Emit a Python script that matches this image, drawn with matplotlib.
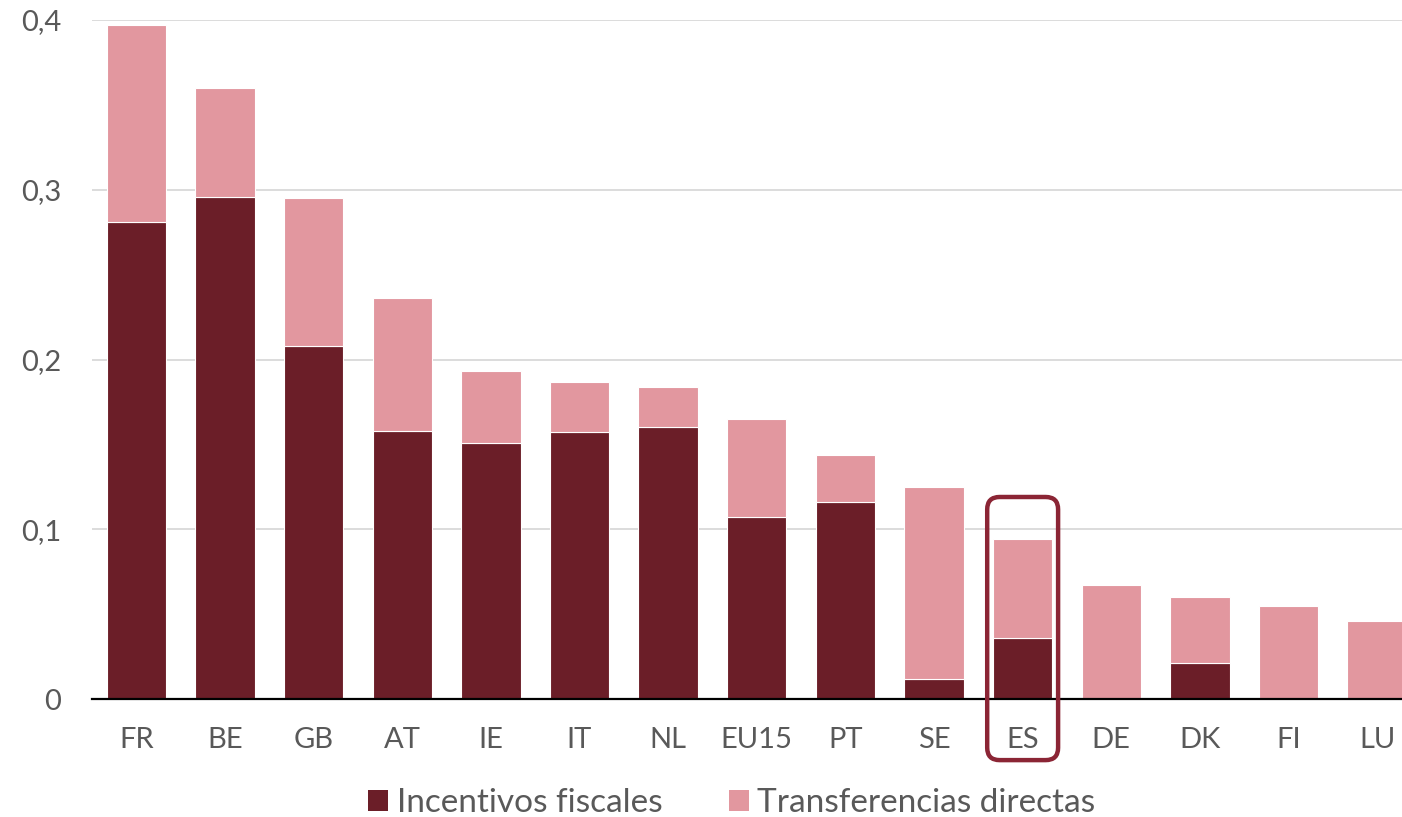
import matplotlib
matplotlib.use("Agg")
import matplotlib.pyplot as plt
from matplotlib.patches import FancyBboxPatch, Patch
import numpy as np

plt.rcParams['font.family'] = ['Lato', 'DejaVu Sans']

countries = ["FR", "BE", "GB", "AT", "IE", "IT", "NL", "EU15", "PT", "SE", "ES", "DE", "DK", "FI", "LU"]
incentivos = [0.281, 0.296, 0.208, 0.158, 0.151, 0.157, 0.160, 0.107, 0.116, 0.012, 0.036, 0.0, 0.021, 0.0, 0.0]
totales = [0.397, 0.360, 0.295, 0.236, 0.193, 0.187, 0.184, 0.165, 0.144, 0.125, 0.094, 0.067, 0.060, 0.055, 0.046]
transferencias = [t - i for t, i in zip(totales, incentivos)]
yticks = [0, 0.1, 0.2, 0.3, 0.4]
ytick_labels = ["0", "0,1", "0,2", "0,3", "0,4"]
highlight = "ES"

dark = "#6B1E28"
light = "#E2979F"
border = "#8B2535"
gray = "#595959"

fig = plt.figure(figsize=(14.02, 8.17), dpi=100)
ax = fig.add_axes([92/1402, 118/817, 1 - 92/1402, (699-20)/817])

x = np.arange(len(countries))
ax.bar(x, incentivos, width=0.67, color=dark, edgecolor="white", linewidth=0.8, zorder=3)
ax.bar(x, transferencias, bottom=incentivos, width=0.67, color=light, edgecolor="white", linewidth=0.8, zorder=3)

ax.set_xlim(-0.5, 14.28)
ax.set_ylim(0, 0.4)
ax.set_yticks(yticks)
ax.set_yticklabels(ytick_labels)
ax.set_xticks(x)
ax.set_xticklabels(countries)
ax.grid(axis="y", color="#D9D9D9", linewidth=1.3, zorder=0)
ax.set_axisbelow(True)
for s in ["top", "right", "left"]:
    ax.spines[s].set_visible(False)
ax.spines["bottom"].set_color("black")
ax.spines["bottom"].set_linewidth(1.6)
ax.spines["bottom"].set_zorder(4)
ax.tick_params(axis="both", length=0, labelsize=21, labelcolor=gray)
ax.tick_params(axis="x", pad=20)
ax.tick_params(axis="y", pad=22)

# highlight box around ES
hi = countries.index(highlight)
px_x = 88.6
px_y = 1697.5
rect = FancyBboxPatch((hi - 0.40, -0.036), 0.80, 0.155,
                      boxstyle="round,pad=0,rounding_size=0.14",
                      mutation_aspect=px_x / px_y,
                      transform=ax.transData, clip_on=False,
                      facecolor="none", edgecolor=border, linewidth=3.2, zorder=6)
ax.add_patch(rect)

handles = [Patch(facecolor=dark, label="Incentivos fiscales"),
           Patch(facecolor=light, label="Transferencias directas")]
fig.legend(handles=handles, loc="center", bbox_to_anchor=(732/1402, 1 - 803/817),
           ncol=2, frameon=False, fontsize=24, labelcolor=gray,
           handlelength=0.6, handleheight=0.6, handletextpad=0.25, columnspacing=2.0)

fig.savefig("out.png", dpi=100)
